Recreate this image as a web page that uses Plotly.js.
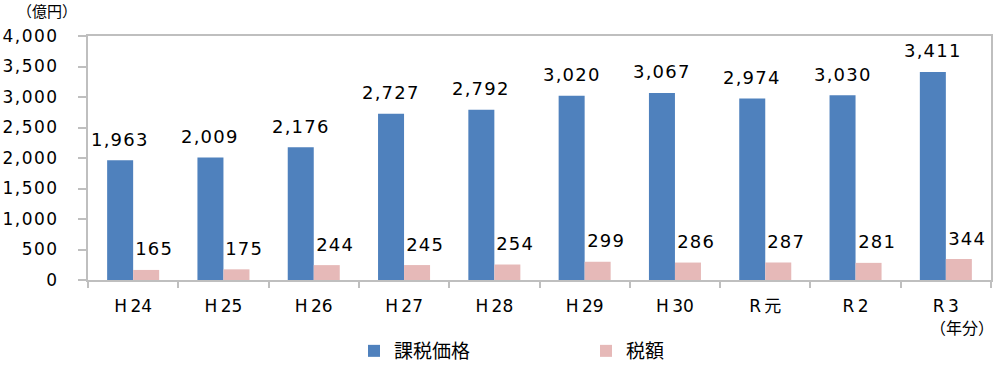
<!DOCTYPE html>
<html>
<head>
<meta charset="utf-8">
<script src="https://cdn.plot.ly/plotly-3.0.1.min.js"></script>
<style>
html,body{margin:0;padding:0;background:#fff;}
#chart{width:1006px;height:366px;}
.ytick text {letter-spacing:1.5px;}
</style>
</head>
<body>
<div id="chart"></div>
<script>
const categories = ["H\u200924", "H\u200925", "H\u200926", "H\u200927", "H\u200928", "H\u200929", "H\u200930", "R\u2009元", "R\u20092", "R\u20093"];
const taxablePrice = [1963, 2009, 2176, 2727, 2792, 3020, 3067, 2974, 3030, 3411];
const taxAmount = [165, 175, 244, 245, 254, 299, 286, 287, 281, 344];
const seriesNames = ["課税価格", "税額"];
const yTitle = "（億円）";
const xNote = "（年分）";

const FONT = "DejaVu Sans, Noto Sans CJK JP, sans-serif";
const fmt = v => v.toLocaleString("en-US");

const traces = [
  {type: "bar", name: seriesNames[0], x: categories, y: taxablePrice,
   marker: {color: "#4F81BD"}, hoverinfo: "none"},
  {type: "bar", name: seriesNames[1], x: categories, y: taxAmount,
   marker: {color: "#E6B9B8"}, hoverinfo: "none"}
];

const annotations = [];
categories.forEach((c, i) => {
  annotations.push({x: c, y: taxablePrice[i], xref: "x", yref: "y", text: fmt(taxablePrice[i]),
    showarrow: false, xshift: -13, yshift: 21, yanchor: "middle", font: {family: FONT, size: 18, color: "#000"}});
  annotations.push({x: c, y: taxAmount[i], xref: "x", yref: "y", text: fmt(taxAmount[i]),
    showarrow: false, xshift: 21, yshift: 21, yanchor: "middle", font: {family: FONT, size: 18, color: "#000"}});
});
const nNum = annotations.length;
annotations.push({xref: "paper", yref: "paper", x: -41/903, y: (280-12)/244, text: yTitle, showarrow: false,
  xanchor: "center", yanchor: "middle", font: {family: FONT, size: 15, color: "#000"}});
annotations.push({xref: "paper", yref: "paper", x: (962-88)/903, y: (280-328)/244, text: xNote, showarrow: false,
  xanchor: "center", yanchor: "middle", font: {family: FONT, size: 16, color: "#000"}});

const layout = {
  width: 1006, height: 366,
  margin: {l: 88, r: 15, t: 36, b: 86, autoexpand: false},
  paper_bgcolor: "#fff", plot_bgcolor: "#fff",
  font: {family: FONT, color: "#000"},
  barmode: "group", bargap: 0.424, bargroupgap: 0,
  showlegend: true,
  legend: {orientation: "h", xref: "paper", yref: "paper", x: (354-88)/903, y: (280-351)/244,
    xanchor: "left", yanchor: "middle", entrywidth: 187, entrywidthmode: "pixels",
    font: {family: FONT, size: 19, color: "#000"}, bgcolor: "rgba(0,0,0,0)"},
  xaxis: {type: "category", showline: true, linecolor: "#BFBFBF", linewidth: 2, mirror: true,
    ticks: "outside", tickson: "boundaries", ticklen: 6, tickcolor: "#BFBFBF", tickwidth: 2,
    showgrid: false, zeroline: false, ticklabelstandoff: 10,
    tickfont: {family: FONT, size: 17, color: "#000"}},
  yaxis: {range: [0, 4000], dtick: 500, tickformat: ",d", showline: true, linecolor: "#BFBFBF", linewidth: 2, mirror: true,
    ticks: "outside", ticklen: 8, tickcolor: "#BFBFBF", tickwidth: 2, showgrid: false, zeroline: false,
    ticklabelstandoff: 16, tickfont: {family: FONT, size: 17, color: "#000"}},
  annotations: annotations
};

Plotly.newPlot("chart", traces, layout, {displayModeBar: false, staticPlot: true}).then(gd => {
  const texts = gd.querySelectorAll(".annotation-text-g text");
  texts.forEach((t, i) => { if (i < nNum) t.style.letterSpacing = "1.2px"; });
});
</script>
</body>
</html>
